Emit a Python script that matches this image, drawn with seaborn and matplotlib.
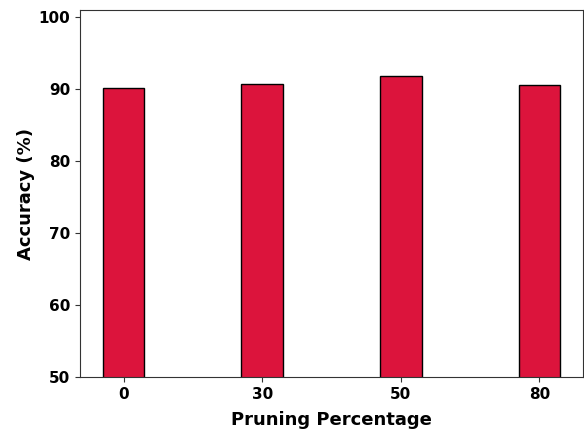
import pandas as pd
import matplotlib.pyplot as plt
import seaborn as sns

# --- datos ---
pruning = ['0', '30', '50', '80']
accuracy = [90.25, 90.8, 91.85, 90.55]

sns.set_style("ticks")
plt.rcParams.update({'font.family': 'DejaVu Sans', 'font.weight': 'bold',
                     'text.color': 'black', 'axes.labelcolor': 'black',
                     'xtick.color': '#333333', 'ytick.color': '#333333',
                     'xtick.labelcolor': 'black', 'ytick.labelcolor': 'black'})

df = pd.DataFrame({'Pruning Percentage': pruning, 'Accuracy (%)': accuracy})

fig = plt.figure(figsize=(5.84, 4.32), dpi=100)
ax = fig.add_axes([80 / 584, 55 / 432, 503 / 584, 367 / 432])

sns.barplot(data=df, x='Pruning Percentage', y='Accuracy (%)', color='crimson',
            saturation=1, width=0.3, edgecolor='black', linewidth=1, ax=ax)

ax.set_ylim(50, max(accuracy) * 1.1)
ax.set_xlim(-0.315, 3.315)
ax.set_xlabel('Pruning Percentage', fontsize=13, fontweight='bold', labelpad=6.5)
ax.set_ylabel('Accuracy (%)', fontsize=13, fontweight='bold', labelpad=2.5)
ax.tick_params(labelsize=11, length=3.5, width=0.8)
for lbl in ax.get_xticklabels() + ax.get_yticklabels():
    lbl.set_fontweight('bold')
for s in ax.spines.values():
    s.set_color('#333333')

plt.savefig('out.png', dpi=100)
